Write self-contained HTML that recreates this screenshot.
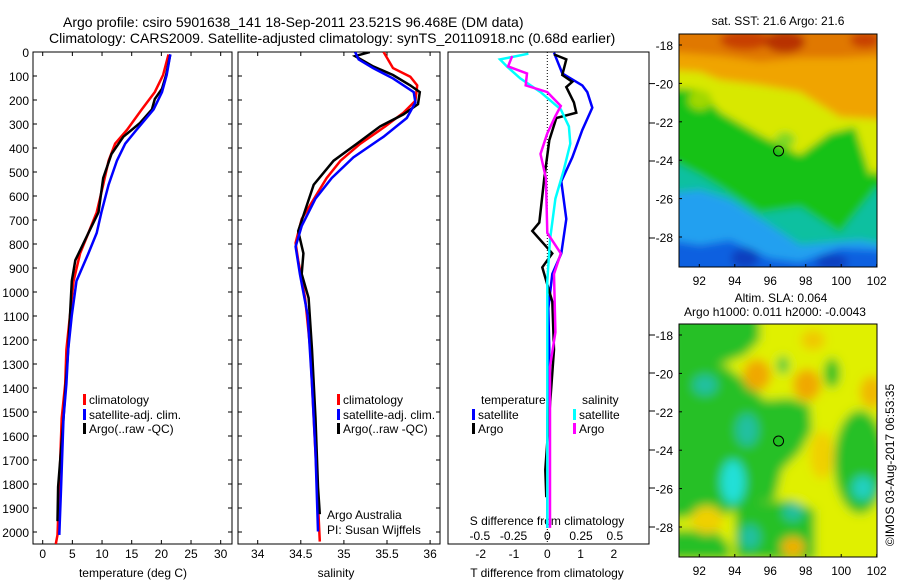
<!DOCTYPE html>
<html><head><meta charset="utf-8">
<style>
html,body{margin:0;padding:0;background:#fff;}
svg{display:block;font-family:"Liberation Sans",sans-serif;}
</style></head>
<body>
<svg id="c" width="900" height="580" viewBox="0 0 900 580" xmlns="http://www.w3.org/2000/svg">
<defs>
<filter id="bl" x="-5%" y="-5%" width="110%" height="110%"><feGaussianBlur stdDeviation="4"/></filter>
<filter id="bl2" x="-5%" y="-5%" width="110%" height="110%"><feGaussianBlur stdDeviation="5"/></filter>
<clipPath id="m1c"><rect x="679" y="34" width="198" height="233"/></clipPath>
<clipPath id="m2c"><rect x="679" y="324" width="198" height="233"/></clipPath>
<clipPath id="p1c"><rect x="33" y="52" width="199" height="492"/></clipPath>
<clipPath id="p2c"><rect x="238" y="52" width="202" height="492"/></clipPath>
<clipPath id="p3c"><rect x="448" y="52" width="201" height="492"/></clipPath>
</defs>
<text x="63" y="27" font-size="14">Argo profile: csiro 5901638_141 18-Sep-2011 23.521S 96.468E (DM data)</text>
<text x="49" y="43" font-size="14">Climatology: CARS2009. Satellite-adjusted climatology: synTS_20110918.nc (0.68d earlier)</text>

<!-- Map 1 -->
<g clip-path="url(#m1c)">
<g filter="url(#bl)">
<rect x="670" y="25" width="220" height="250" fill="#14c214"/>
<polygon points="670,25 890,25 890,190 877,170 870,175 855,127 830,133 800,155 760,135 720,112 700,90 670,88" fill="#d8e800"/>
<polygon points="670,25 890,25 890,120 840,117 800,92 760,85 720,80 700,72 670,70" fill="#f0a400"/>
<polygon points="670,25 890,25 890,55 840,58 800,58 760,62 720,56 670,52" fill="#e07800"/>
<ellipse cx="745" cy="40" rx="25" ry="10" fill="#c84000"/>
<ellipse cx="785" cy="42" rx="20" ry="11" fill="#b83000"/>
<ellipse cx="865" cy="40" rx="15" ry="8" fill="#c84000"/>
<ellipse cx="700" cy="100" rx="12" ry="10" fill="#a0d800"/>
<ellipse cx="785" cy="140" rx="10" ry="8" fill="#80d820"/>
<polygon points="670,160 700,175 720,187 760,213 800,207 840,233 877,187 890,190 890,280 670,280" fill="#10c0a0"/>
<polygon points="670,193 700,190 730,200 770,225 800,245 860,240 890,245 890,280 670,280" fill="#20a0f0"/>
<polygon points="670,240 700,245 730,240 770,258 800,262 840,248 880,250 890,280 670,280" fill="#1060e0"/>
<ellipse cx="745" cy="258" rx="14" ry="10" fill="#0840c0"/>
<ellipse cx="832" cy="262" rx="16" ry="8" fill="#0840c0"/>
</g>
</g>
<rect x="679" y="34" width="198" height="233" fill="none" stroke="#000" stroke-width="1"/>
<text x="778" y="25" font-size="12" text-anchor="middle">sat. SST: 21.6 Argo: 21.6</text>

<!-- Map 2 -->
<g clip-path="url(#m2c)">
<g filter="url(#bl2)">
<rect x="670" y="315" width="220" height="250" fill="#e0f000"/>
<polygon points="670,315 760,315 760,340 745,355 720,365 705,385 670,385" fill="#28c028"/>
<polygon points="670,375 705,370 725,365 750,385 765,400 790,398 810,405 812,430 800,452 782,470 775,500 745,505 725,515 700,515 670,520" fill="#28c028"/>
<polygon points="735,505 790,500 815,510 815,560 735,560" fill="#28c028"/>
<polygon points="670,530 715,530 730,545 730,560 670,560" fill="#28c028"/>
<ellipse cx="860" cy="462" rx="26" ry="52" fill="#28c028"/>
<ellipse cx="832" cy="373" rx="8" ry="15" fill="#28c028"/>
<ellipse cx="783" cy="365" rx="6" ry="9" fill="#40c840"/>
<ellipse cx="705" cy="385" rx="12" ry="10" fill="#20c0a0"/>
<ellipse cx="747" cy="430" rx="11" ry="16" fill="#20c0a0"/>
<ellipse cx="733" cy="482" rx="12" ry="22" fill="#20e0d8"/>
<ellipse cx="793" cy="512" rx="10" ry="9" fill="#20c0a0"/>
<ellipse cx="750" cy="537" rx="10" ry="12" fill="#20c0a0"/>
<ellipse cx="863" cy="488" rx="11" ry="12" fill="#20d0c0"/>
<ellipse cx="757" cy="375" rx="14" ry="16" fill="#f0a800"/>
<ellipse cx="807" cy="385" rx="14" ry="16" fill="#f0a800"/>
<ellipse cx="872" cy="392" rx="12" ry="16" fill="#f0b800"/>
<ellipse cx="813" cy="340" rx="12" ry="10" fill="#f0c800"/>
<ellipse cx="822" cy="455" rx="12" ry="24" fill="#f0d000"/>
<ellipse cx="793" cy="547" rx="12" ry="10" fill="#f0b000"/>
<ellipse cx="707" cy="520" rx="16" ry="14" fill="#f0d000"/>
</g>
</g>
<rect x="679" y="324" width="198" height="233" fill="none" stroke="#000" stroke-width="1"/>
<text x="781" y="302" font-size="12" text-anchor="middle">Altim. SLA: 0.064</text>
<text x="775" y="316" font-size="12" text-anchor="middle">Argo h1000: 0.011 h2000: -0.0043</text>
<text transform="translate(894,465) rotate(-90)" font-size="12" text-anchor="middle">©IMOS 03-Aug-2017 06:53:35</text>

<g id="plots"></g>
</svg>
<script>
// ---- depth profile data ----
const tDepthRed = [10,96,167,239,325,382,453,553,668,754,839,954,1097,1240,1383,1526,1812,2012,2050];
const tempClim = [21.2,20.3,18.9,16.7,14.2,12.2,11.1,10.2,9.1,7.7,6.3,5.2,4.6,4.0,3.8,3.2,2.8,2.5,2.2];
const tDepthBlue = [10,96,167,239,325,382,453,553,668,754,839,954,1097,1240,1383,1526,1812,2012];
const tempSat = [21.5,20.9,20.1,18.7,15.8,13.9,12.5,11.1,9.9,9.1,7.7,5.7,4.9,4.3,4.0,3.5,3.1,2.8];
const tDepthArgo = [10,96,153,196,239,296,353,425,525,668,754,868,954,1097,1240,1383,1526,1812,1955];
const tempArgo = [21.5,20.8,20.1,18.9,18.4,16.4,13.6,11.6,10.2,9.4,7.7,5.5,4.9,4.6,4.3,3.9,3.5,2.6,2.5];

const sDepthRed = [0,67,103,139,203,253,310,382,453,525,596,696,796,868,1025,1240,1526,1812,2040];
const salClim = [35.46,35.57,35.77,35.85,35.83,35.69,35.48,35.19,34.96,34.80,34.68,34.51,34.44,34.47,34.55,34.61,34.65,34.69,34.72];
const sDepthBlue = [0,31,67,110,167,210,275,353,439,525,611,725,811,925,1097,1383,1669,1998];
const salSat = [35.13,35.17,35.34,35.57,35.81,35.83,35.73,35.46,35.11,34.86,34.67,34.51,34.44,34.49,34.58,34.63,34.67,34.70];
const sDepthArgo = [0,17,60,96,139,167,217,260,310,382,453,553,639,746,839,925,1025,1240,1526,1812,1926];
const salArgo = [35.30,35.13,35.34,35.57,35.77,35.88,35.86,35.69,35.42,35.15,34.88,34.65,34.57,34.47,34.53,34.51,34.59,34.63,34.67,34.70,34.72];

const dDepthTsat = [3,89,139,167,232,325,439,539,696,839,925,1068,1240,1526,1983];
const dTsat = [0.2,0.45,1.05,1.2,1.35,1.05,0.75,0.42,0.57,0.42,0.15,0.03,0.06,0,0];
const dDepthTargo = [10,31,96,124,146,210,253,275,368,525,711,746,839,897,1040,1240,1740,1855];
const dTargo = [0.2,0.57,0.45,0.75,0.57,0.8,0.87,0.27,0.06,-0.09,-0.24,-0.45,0.15,-0.15,0.15,0.2,-0.06,-0.03];
const dDepthSsat = [7,31,60,110,167,239,310,382,496,611,782,954,1383,1983];
const dSsat = [-0.14,-0.35,-0.3,-0.2,-0.05,0.1,0.16,0.17,0.12,0.06,0.02,0,0,0];
const dDepthSargo = [17,60,89,139,167,225,267,339,425,525,754,839,925,1168,1311,1983];
const dSargo = [-0.26,-0.29,-0.15,-0.16,0,0.1,0.06,0,-0.05,-0.01,0,0.1,0.05,0.06,0.02,0.02];

const depthTicks = [0,100,200,300,400,500,600,700,800,900,1000,1100,1200,1300,1400,1500,1600,1700,1800,1900,2000];
const tempTicks = [0,5,10,15,20,25,30];
const salTicks = [34,34.5,35,35.5,36];
const dTTicks = [-2,-1,0,1,2];
const dSTicks = [-0.5,-0.25,0,0.25,0.5];
const lonTicks = [92,94,96,98,100,102];
const latTicks = [-18,-20,-22,-24,-26,-28];

const NS = 'http://www.w3.org/2000/svg';
const root = document.getElementById('plots');
function el(tag, attrs, parent){ const e=document.createElementNS(NS,tag); for(const k in attrs) e.setAttribute(k,attrs[k]); (parent||root).appendChild(e); return e; }
function txt(x,y,s,anchor,size){ const t=el('text',{x:x,y:y,'font-size':size||12,'text-anchor':anchor||'start'}); t.textContent=s; return t; }

const yD = d => 52 + d*0.24;
const xT = t => 42.7 + t*5.933;
const xS = s => 257.7 + (s-34)*86.2;
const xDT = v => 547.3 + v*33.3;
const xDS = v => 547.3 + v*135;
const xLon = v => 699.3 + (v-92)*17.74;
const yLat1 = v => 45 + (-18 - v)*19.2;
const yLat2 = v => 335 + (-18 - v)*19.2;

function frame(x0,x1,name){
  const r = el('rect',{x:x0,y:52,width:x1-x0,height:492,fill:'none',stroke:'#000','stroke-width':1});
  
  
}
function line(xs, ds, fx, color, clip, name, w){
  const pts = xs.map((v,i)=>fx(v).toFixed(1)+','+yD(ds[i]).toFixed(1)).join(' ');
  const p = el('polyline',{points:pts,fill:'none',stroke:color,'stroke-width':w||2.5,'clip-path':'url(#'+clip+')','stroke-linejoin':'miter'});
  
  
}

frame(33,232,'temperature-panel-frame');
frame(238,440,'salinity-panel-frame');
frame(448,649,'difference-panel-frame');

depthTicks.forEach(d=>{
  const t = txt(29, yD(d)+5, String(d), 'end', 12);
  
  
  [[33,37],[228,232],[238,242],[436,440]].forEach(a=>el('line',{x1:a[0],x2:a[1],y1:yD(d),y2:yD(d),stroke:'#000'}));
});
[83.6,123,161,238,335,373,411,450,488,527].forEach(y=>el('line',{x1:649,x2:655,y1:y,y2:y,stroke:'#000'}));

tempTicks.forEach(v=>{
  const t = txt(xT(v), 558, String(v), 'middle', 12);
  
  
  el('line',{x1:xT(v),x2:xT(v),y1:544,y2:540,stroke:'#000'});
  el('line',{x1:xT(v),x2:xT(v),y1:52,y2:56,stroke:'#000'});
});
salTicks.forEach(v=>{
  const t = txt(xS(v), 558, String(v), 'middle', 12);
  
  
  el('line',{x1:xS(v),x2:xS(v),y1:544,y2:540,stroke:'#000'});
  el('line',{x1:xS(v),x2:xS(v),y1:52,y2:56,stroke:'#000'});
});
dTTicks.forEach(v=>{
  const t = txt(xDT(v), 558, String(v), 'middle', 12);
  
  
});
dSTicks.forEach(v=>{
  const t = txt(xDS(v), 540, String(v), 'middle', 12);
  
  
});
let a1 = txt(133, 577, 'temperature (deg C)', 'middle', 12);


let a2 = txt(336, 577, 'salinity', 'middle', 12);


let a3 = txt(547, 577, 'T difference from climatology', 'middle', 12);


let a4 = txt(547, 525, 'S difference from climatology', 'middle', 12);



const zl = el('line',{x1:xDT(0),x2:xDT(0),y1:52,y2:544,stroke:'#000','stroke-dasharray':'1,2'});



line(tempClim, tDepthRed, xT, '#f00', 'p1c', 'temp-climatology-line');
line(tempArgo, tDepthArgo, xT, '#000', 'p1c', 'temp-argo-line');
line(tempSat, tDepthBlue, xT, '#00f', 'p1c', 'temp-satellite-line');
line(salClim, sDepthRed, xS, '#f00', 'p2c', 'sal-climatology-line');
line(salArgo, sDepthArgo, xS, '#000', 'p2c', 'sal-argo-line');
line(salSat, sDepthBlue, xS, '#00f', 'p2c', 'sal-satellite-line');
line(dTsat, dDepthTsat, xDT, '#00f', 'p3c', 'dt-satellite-line');
line(dTargo, dDepthTargo, xDT, '#000', 'p3c', 'dt-argo-line');
line(dSsat, dDepthSsat, xDS, '#0ff', 'p3c', 'ds-satellite-line');
line(dSargo, dDepthSargo, xDS, '#f0f', 'p3c', 'ds-argo-line');

function legend(x,y,color,label,name){
  const r = el('rect',{x:x,y:y-9,width:3,height:11,fill:color});
  
  
  const t = txt(x+6, y+1, label, 'start', 12);
  
  
}
legend(83,403,'#f00','climatology','legend-climatology');
legend(83,418,'#00f','satellite-adj. clim.','legend-satellite-adj');
legend(83,432,'#000','Argo(..raw -QC)','legend-argo');
legend(337,403,'#f00','climatology','legend2-climatology');
legend(337,418,'#00f','satellite-adj. clim.','legend2-satellite-adj');
legend(337,432,'#000','Argo(..raw -QC)','legend2-argo');
let lt = txt(481, 404, 'temperature', 'start', 12);


let ls = txt(582, 404, 'salinity', 'start', 12);


legend(472,418,'#00f','satellite','legend-dt-satellite');
legend(472,432,'#000','Argo','legend-dt-argo');
legend(573,418,'#0ff','satellite','legend-ds-satellite');
legend(573,432,'#f0f','Argo','legend-ds-argo');
let c1 = txt(327, 519, 'Argo Australia', 'start', 12);


let c2 = txt(327, 534, 'PI: Susan Wijffels', 'start', 12);



[[yLat1,267,280],[yLat2,557,570]].forEach((m,mi)=>{
  lonTicks.forEach(v=>{
    const t = txt(xLon(v), m[2]+5, String(v), 'middle', 12);
    
    
    el('line',{x1:xLon(v),x2:xLon(v),y1:m[1],y2:m[1]-3,stroke:'#000'});
  });
  latTicks.forEach(v=>{
    const t = txt(673, m[0](v)+5, String(v), 'end', 12);
    
    
    el('line',{x1:679,x2:682,y1:m[0](v),y2:m[0](v),stroke:'#000'});
  });
  const c = el('circle',{cx:xLon(96.468),cy:m[0](-23.521),r:5,fill:mi?'#20c020':'none',stroke:'#000','stroke-width':1});
  
  
});
</script>
</body></html>
